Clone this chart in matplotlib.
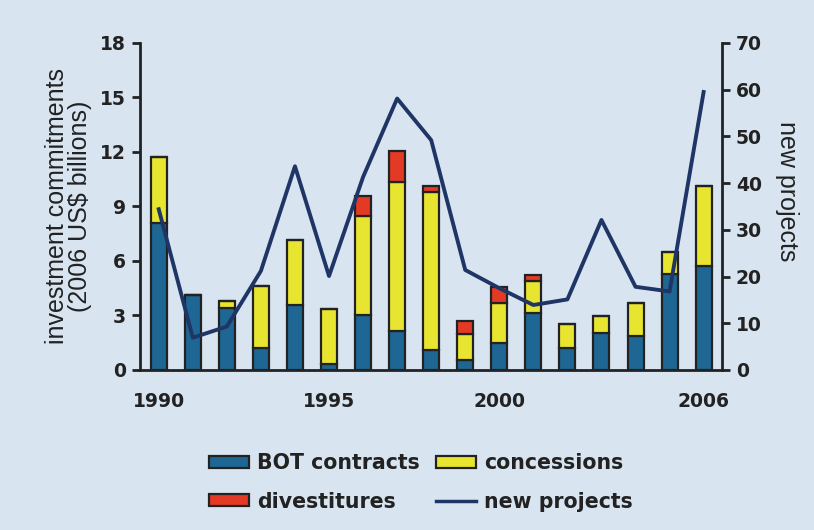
import matplotlib
matplotlib.use("Agg")
import matplotlib.pyplot as plt
from matplotlib.patches import Patch
from matplotlib.lines import Line2D
import numpy as np

years = list(range(1990, 2007))
bot = [8.1, 4.1, 3.4, 1.2, 3.55, 0.3, 3.0, 2.15, 1.1, 0.55, 1.5, 3.15, 1.2, 2.05, 1.85, 5.3, 5.7]
concessions = [3.6, 0.0, 0.4, 3.4, 3.6, 3.05, 5.5, 8.2, 8.7, 1.45, 2.2, 1.75, 1.35, 0.92, 1.85, 1.2, 4.45]
divestitures = [0.0, 0.0, 0.0, 0.0, 0.0, 0.0, 1.1, 1.72, 0.35, 0.72, 0.85, 0.35, 0.0, 0.0, 0.0, 0.0, 0.0]
new_projects = [34.4, 6.9, 9.3, 21.2, 43.6, 20.1, 41.3, 58.1, 49.2, 21.4, 17.5, 13.9, 15.1, 32.1, 17.8, 16.8, 59.5]
xtick_years = [1990, 1995, 2000, 2006]

BG = "#d8e5f1"
C_BOT = "#1e6794"
C_CON = "#e8e531"
C_DIV = "#e23a25"
C_LINE = "#1f3566"
EDGE = "#222222"
TXT = "#222222"

TICK_FONT = dict(family=["DejaVu Sans"], weight="bold", size=13.5)
LABEL_FONT = dict(family=["Liberation Sans", "DejaVu Sans"], size=18)

fig = plt.figure(figsize=(8.14, 5.30), dpi=100, facecolor=BG)
ax = fig.add_axes([0.172, 0.302, 0.715, 0.617])
ax.set_facecolor(BG)

x = np.array(years)
bot_a = np.array(bot)
con_a = np.array(concessions)
div_a = np.array(divestitures)
w = 0.47
kw = dict(width=w, edgecolor=EDGE, linewidth=1.6, zorder=2)
ax.bar(x, bot_a, color=C_BOT, **kw)
ax.bar(x, con_a, bottom=bot_a, color=C_CON, **kw)
ax.bar(x, div_a, bottom=bot_a + con_a, color=C_DIV, **kw)

ax.set_xlim(1989.45, 2006.54)
ax.set_ylim(0, 18)
ax.set_yticks(np.arange(0, 19, 3))
ax.set_xticks(xtick_years)
ax.tick_params(axis="x", length=0, pad=16)
ax.tick_params(axis="y", length=6, width=2, color=EDGE, pad=4)
for lab in ax.get_xticklabels() + ax.get_yticklabels():
    lab.set(**TICK_FONT, color=TXT)
for s in ["top", "right"]:
    ax.spines[s].set_visible(False)
for s in ["left", "bottom"]:
    ax.spines[s].set_linewidth(2)
    ax.spines[s].set_color(EDGE)
ax.set_ylabel("investment commitments\n(2006 US$ billions)", color=TXT,
              linespacing=0.95, labelpad=6, **LABEL_FONT)

ax2 = ax.twinx()
ax2.plot(x, new_projects, color=C_LINE, linewidth=2.8, zorder=3)
ax2.set_ylim(0, 70)
ax2.set_yticks(np.arange(0, 71, 10))
ax2.tick_params(axis="y", length=6, width=2, color=EDGE, pad=4)
for lab in ax2.get_yticklabels():
    lab.set(**TICK_FONT, color=TXT)
for s in ["top", "left", "bottom"]:
    ax2.spines[s].set_visible(False)
ax2.spines["right"].set_linewidth(2)
ax2.spines["right"].set_color(EDGE)
ax2.set_ylabel("new projects", color=TXT, rotation=270, **LABEL_FONT)
ax2.yaxis.set_label_coords(1.112, 0.547)
ax2.yaxis.label.set_va("center")
ax2.yaxis.label.set_ha("center")

handles = [
    Patch(facecolor=C_BOT, edgecolor=EDGE, linewidth=1.6, label="BOT contracts"),
    Patch(facecolor=C_DIV, edgecolor=EDGE, linewidth=1.6, label="divestitures"),
    Patch(facecolor=C_CON, edgecolor=EDGE, linewidth=1.6, label="concessions"),
    Line2D([0], [0], color=C_LINE, linewidth=2.5, label="new projects"),
]
leg = fig.legend(handles=handles, ncol=2, loc="center", bbox_to_anchor=(0.517, 0.09),
                 frameon=False, prop=dict(family="DejaVu Sans", weight="bold", size=14.8),
                 handlelength=1.95, handleheight=0.5, handletextpad=0.4,
                 columnspacing=0.8, labelspacing=0.9)
for t in leg.get_texts():
    t.set_color(TXT)

fig.savefig("out.png", dpi=100, facecolor=BG)
